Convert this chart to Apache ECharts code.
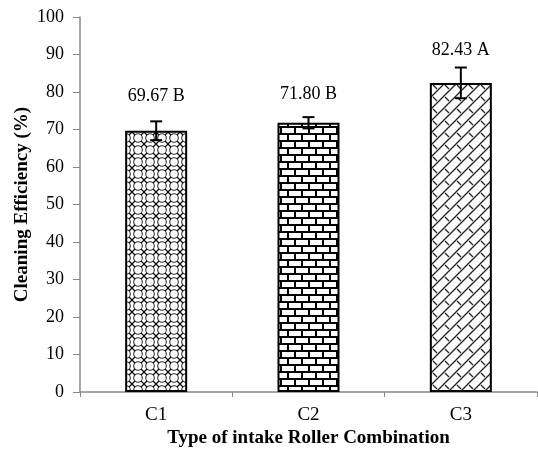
<!DOCTYPE html>
<html><head><meta charset="utf-8">
<script src="https://cdn.jsdelivr.net/npm/echarts@6/dist/echarts.min.js"></script>
<style>html,body{margin:0;padding:0;background:#fff}#c{width:538px;height:450px}</style>
</head><body><div id="c"></div>
<script>
var categories = ['C1', 'C2', 'C3'];
var values = [69.67, 71.80, 82.43];
var errors = [2.5, 1.5, 4.1];
var letters = ['B', 'B', 'A'];
var yTicks = [0, 10, 20, 30, 40, 50, 60, 70, 80, 90, 100];

// style only: per-bar label gap above bar top
var labelGap = [25, 19, 24];

function makePattern(kind) {
  var c = document.createElement('canvas');
  var ctx = c.getContext('2d');
  ctx.strokeStyle = '#000';
  if (kind === 0) {
    c.width = 12; c.height = 12;
    ctx.fillStyle = '#fff'; ctx.fillRect(0,0,12,12);
    ctx.lineWidth = 1.1;
    ctx.strokeStyle = '#333';
    ctx.beginPath();
    ctx.arc(6, 6, 4.3, 0, Math.PI * 2);
    ctx.stroke();
    ctx.strokeStyle = '#111';
    ctx.lineWidth = 1.3;
    ctx.beginPath();
    ctx.moveTo(0,0); ctx.lineTo(3,3);
    ctx.moveTo(12,0); ctx.lineTo(9,3);
    ctx.moveTo(0,12); ctx.lineTo(3,9);
    ctx.moveTo(12,12); ctx.lineTo(9,9);
    ctx.stroke();
  } else if (kind === 1) {
    c.width = 14; c.height = 14;
    ctx.fillStyle = '#fff'; ctx.fillRect(0,0,14,14);
    ctx.fillStyle = '#000';
    ctx.fillRect(0,0,14,2);
    ctx.fillRect(0,7,14,2);
    ctx.fillRect(0,0,2,7);
    ctx.fillRect(7,7,2,7);
  } else {
    c.width = 12; c.height = 12;
    ctx.fillStyle = '#fff'; ctx.fillRect(0,0,12,12);
    ctx.lineWidth = 1.3;
    ctx.strokeStyle = '#222';
    ctx.beginPath();
    ctx.moveTo(0,12); ctx.lineTo(12,0);
    ctx.moveTo(-2,2); ctx.lineTo(2,-2);
    ctx.moveTo(10,14); ctx.lineTo(14,10);
    ctx.moveTo(1,1); ctx.lineTo(5,5);
    ctx.stroke();
  }
  return c;
}

var chart = echarts.init(document.getElementById('c'));
var serif = '"Liberation Serif", "Times New Roman", serif';

var barData = values.map(function (v, i) {
  return {
    value: v,
    itemStyle: { color: { image: makePattern(i), repeat: 'repeat' }, borderColor: '#000', borderWidth: 2 },
    label: { formatter: v.toFixed(2) + ' ' + letters[i], distance: labelGap[i] }
  };
});

var errData = values.map(function (v, i) { return [i, v - errors[i], v + errors[i]]; });

chart.setOption({
  animation: false,
  grid: { left: 80, right: 1, top: 17, bottom: 58, outerBoundsMode: 'none', containLabel: false },
  xAxis: {
    type: 'category',
    data: categories,
    axisLine: { lineStyle: { color: '#888', width: 1.5 } },
    axisTick: { show: true, length: 5, lineStyle: { color: '#888' } },
    axisLabel: { color: '#000', fontFamily: serif, fontSize: 19, margin: 14 },
    name: 'Type of intake Roller Combination',
    nameLocation: 'middle',
    nameGap: 37,
    nameMoveOverlap: false,
    nameTextStyle: { color: '#000', fontFamily: serif, fontSize: 19, fontWeight: 'bold' }
  },
  yAxis: {
    type: 'value',
    min: yTicks[0], max: yTicks[yTicks.length - 1], interval: 10,
    splitLine: { show: false },
    axisLine: { show: true, lineStyle: { color: '#888', width: 1.5 } },
    axisTick: { show: true, inside: false, length: 7, lineStyle: { color: '#888' } },
    axisLabel: { color: '#000', fontFamily: serif, fontSize: 18, margin: 16 },
    name: 'Cleaning Efficiency (%)',
    nameLocation: 'middle',
    nameGap: 48,
    nameRotate: 90,
    nameMoveOverlap: false,
    nameTextStyle: { color: '#000', fontFamily: serif, fontSize: 19, fontWeight: 'bold' }
  },
  series: [
    {
      type: 'bar',
      data: barData,
      barWidth: 62,
      label: { show: true, position: 'top', color: '#000', fontFamily: serif, fontSize: 18 }
    },
    {
      type: 'custom',
      data: errData,
      z: 10,
      renderItem: function (params, api) {
        var x = api.value(0);
        var lo = api.coord([x, api.value(1)]);
        var hi = api.coord([x, api.value(2)]);
        var hw = 6;
        var st = { stroke: '#000', lineWidth: 2 };
        return {
          type: 'group',
          children: [
            { type: 'line', shape: { x1: lo[0], y1: lo[1], x2: hi[0], y2: hi[1] }, style: st },
            { type: 'line', shape: { x1: lo[0] - hw, y1: lo[1], x2: lo[0] + hw, y2: lo[1] }, style: st },
            { type: 'line', shape: { x1: hi[0] - hw, y1: hi[1], x2: hi[0] + hw, y2: hi[1] }, style: st }
          ]
        };
      }
    }
  ]
});
</script></body></html>
